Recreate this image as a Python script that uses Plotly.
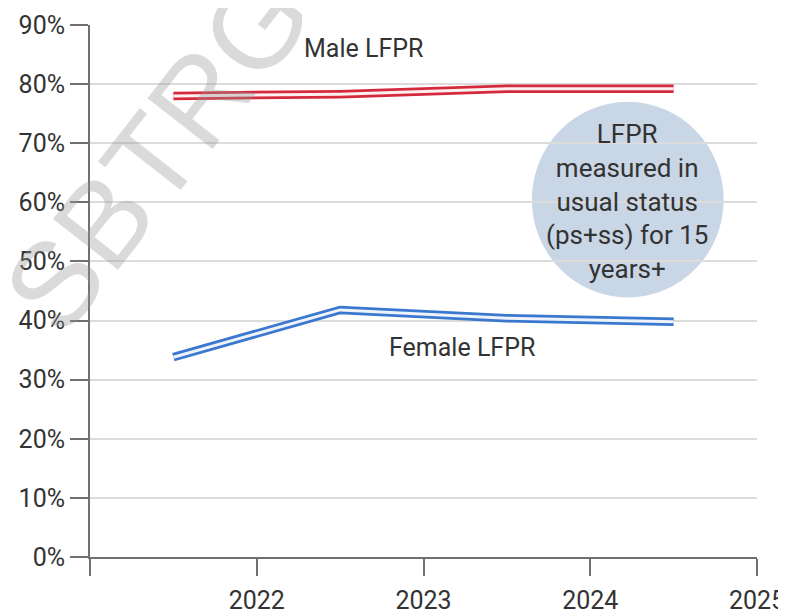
import plotly.graph_objects as go

years = [2021.5, 2022.5, 2023.5, 2024.5]
male_lfpr = [78.0, 78.3, 79.2, 79.2]
female_lfpr = [33.8, 41.8, 40.4, 39.8]
x_ticks = [2021, 2022, 2023, 2024, 2025]
x_ticktext = ["", "2022", "2023", "2024", "2025"]
y_ticks = [0, 10, 20, 30, 40, 50, 60, 70, 80, 90]
y_ticktext = [f"{v}%" for v in y_ticks]

RED = "#d42a3c"
BLUE = "#3a78cf"
FONT = "Roboto"

fig = go.Figure()

# circle note (behind lines)
fig.add_shape(type="circle", xref="x", yref="y",
              x0=2023.65, x1=2024.8, y0=43.9, y1=77.0,
              fillcolor="#c9d6e5", line=dict(width=0), layer="below")

for vals, col, inner in [(male_lfpr, RED, "#fbeff0"), (female_lfpr, BLUE, "#eef3fb")]:
    fig.add_trace(go.Scatter(x=years, y=vals, mode="lines",
                             line=dict(color=col, width=8.5),
                             hoverinfo="skip", showlegend=False))
    fig.add_trace(go.Scatter(x=years, y=vals, mode="lines",
                             line=dict(color=inner, width=3),
                             hoverinfo="skip", showlegend=False))

# page body has an 8px default margin, so the figure is sized to fit the window
fig.update_layout(
    width=778, height=608,
    margin=dict(l=82, r=29, t=17, b=59),
    paper_bgcolor="white", plot_bgcolor="white",
    font=dict(family=FONT, size=24, color="#333333"),
    showlegend=False,
)
fig.update_xaxes(range=[2021, 2025], tickvals=x_ticks, ticktext=x_ticktext,
                 ticks="outside", ticklen=17, tickwidth=2, tickcolor="#707070",
                 showline=True, linecolor="#707070", linewidth=2,
                 showgrid=False, zeroline=False, automargin=False,
                 ticklabelstandoff=3,
                 tickfont=dict(family=FONT, size=25, color="#333333"))
fig.update_yaxes(range=[0, 90], tickvals=y_ticks, ticktext=y_ticktext,
                 ticks="outside", ticklen=18, tickwidth=2, tickcolor="#707070",
                 showline=True, linecolor="#707070", linewidth=2,
                 showgrid=True, gridcolor="#dcdcdc", gridwidth=2,
                 zeroline=False, automargin=False,
                 tickfont=dict(family=FONT, size=25, color="#333333"))

# watermark
fig.add_annotation(xref="paper", yref="paper", x=0.10, y=0.762,
                   xanchor="center", yanchor="middle",
                   text="SBTRG", showarrow=False, textangle=-52,
                   font=dict(family="Liberation Sans", size=120, color="rgba(150,150,150,0.35)"))

fig.add_annotation(x=2022.64, y=86.1, text="Male LFPR", showarrow=False,
                   font=dict(family=FONT, size=25, color="#333333"))
fig.add_annotation(x=2023.23, y=35.5, text="Female LFPR", showarrow=False,
                   font=dict(family=FONT, size=25, color="#333333"))
fig.add_annotation(x=2024.22, y=60.2,
                   text="LFPR<br>measured in<br>usual status<br>(ps+ss) for 15<br>years+",
                   showarrow=False, align="center",
                   font=dict(family=FONT, size=26, color="#333333"))

fig.write_html("out.html")
